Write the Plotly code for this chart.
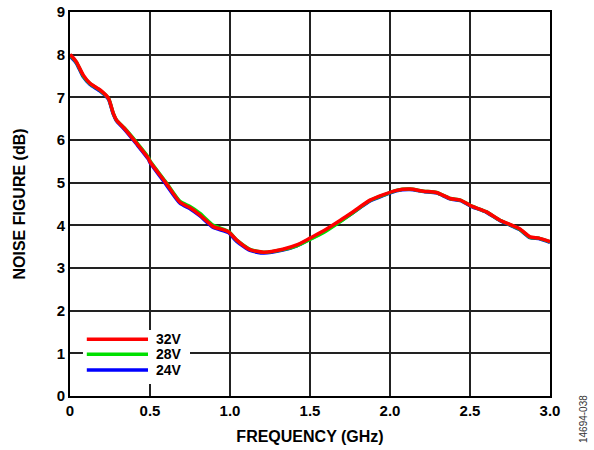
import plotly.graph_objects as go

freq = [0.0, 0.01, 0.04, 0.083, 0.125, 0.19, 0.24, 0.27, 0.29, 0.34, 0.417, 0.49, 0.5, 0.6, 0.6875,
        0.75, 0.8125, 0.896, 0.99, 1.04, 1.125, 1.21, 1.33, 1.417, 1.5, 1.58, 1.69, 1.77, 1.875,
        1.96, 2.04, 2.125, 2.21, 2.29, 2.375, 2.44, 2.51, 2.6, 2.6875, 2.81, 2.875, 2.93, 3.0]
nf_32v = [8.0, 7.97, 7.83, 7.52, 7.33, 7.17, 6.98, 6.63, 6.47, 6.27, 5.92, 5.57, 5.49, 4.99, 4.54,
          4.41, 4.24, 3.97, 3.85, 3.66, 3.43, 3.37, 3.44, 3.54, 3.70, 3.86, 4.12, 4.32, 4.59,
          4.72, 4.82, 4.85, 4.80, 4.77, 4.63, 4.59, 4.45, 4.32, 4.12, 3.92, 3.73, 3.70, 3.62]
nf_28v = [7.98, 7.95, 7.82, 7.50, 7.32, 7.16, 6.98, 6.63, 6.47, 6.28, 5.94, 5.59, 5.51, 5.01, 4.56,
          4.44, 4.28, 4.00, 3.86, 3.66, 3.44, 3.37, 3.43, 3.52, 3.67, 3.82, 4.09, 4.30, 4.58,
          4.71, 4.82, 4.85, 4.80, 4.77, 4.63, 4.59, 4.45, 4.32, 4.12, 3.91, 3.72, 3.70, 3.61]
nf_24v = [7.96, 7.93, 7.80, 7.48, 7.30, 7.14, 6.96, 6.61, 6.45, 6.25, 5.90, 5.55, 5.47, 4.96, 4.52,
          4.39, 4.22, 3.95, 3.83, 3.63, 3.41, 3.35, 3.42, 3.52, 3.68, 3.84, 4.10, 4.30, 4.57,
          4.70, 4.81, 4.84, 4.79, 4.76, 4.62, 4.58, 4.44, 4.31, 4.11, 3.90, 3.71, 3.69, 3.60]

series = [("32V", nf_32v, "#ff0000"), ("28V", nf_28v, "#00e000"), ("24V", nf_24v, "#0000ff")]
x_ticks = [0, 0.5, 1.0, 1.5, 2.0, 2.5, 3.0]
x_tick_text = ["0", "0.5", "1.0", "1.5", "2.0", "2.5", "3.0"]
y_ticks = list(range(0, 10))

FONT = "Liberation Sans, Arial, sans-serif"

fig = go.Figure()
# draw in reverse so red is on top
for name, vals, col in reversed(series):
    fig.add_trace(go.Scatter(x=freq, y=vals, mode="lines", name=name, showlegend=False,
                             line=dict(color=col, width=3.5, shape="spline", smoothing=0.6)))

fig.update_layout(
    width=594, height=450,
    margin=dict(l=70, r=44, t=12, b=54, autoexpand=False),
    paper_bgcolor="white", plot_bgcolor="white",
    font=dict(family=FONT, size=15, color="black"),
    showlegend=False,
    xaxis=dict(range=[0, 3.0], tickvals=x_ticks, ticktext=x_tick_text, showgrid=True,
               gridcolor="#222222", gridwidth=1.5, zeroline=False, showline=True, mirror=True,
               linecolor="black", linewidth=2, ticks="", tickfont=dict(size=15, weight="bold"),
               title=dict(text="<b>FREQUENCY (GHz)</b>", font=dict(size=16), standoff=13)),
    yaxis=dict(range=[0, 9], tickvals=y_ticks, showgrid=True, gridcolor="#222222", gridwidth=1.5,
               zeroline=False, showline=True, mirror=True, linecolor="black", linewidth=2,
               ticks="", tickfont=dict(size=15, weight="bold"),
               title=dict(text="<b>NOISE FIGURE (dB)</b>", font=dict(size=16), standoff=27)),
)

# manual legend (paper coordinates) with white background box
fig.add_shape(type="rect", xref="paper", yref="paper", x0=0.027, x1=0.25, y0=0.031, y1=0.172,
              fillcolor="white", line=dict(width=0), layer="above")
legend_y = [0.148, 0.109, 0.068]
for (name, vals, col), ly in zip(series, legend_y):
    fig.add_shape(type="line", xref="paper", yref="paper", x0=0.035, x1=0.1625, y0=ly, y1=ly,
                  line=dict(color=col, width=3.5), layer="above")
    fig.add_annotation(text="<b>" + name + "</b>", xref="paper", yref="paper", x=0.175, y=ly,
                       xanchor="left", yanchor="middle", showarrow=False,
                       font=dict(size=14, color="black", family=FONT))

fig.add_annotation(text="14694-038", xref="paper", yref="paper", x=1.0, y=-0.06,
                   xanchor="center", yanchor="middle", xshift=33, textangle=-90, showarrow=False,
                   font=dict(size=10, color="#333333", family=FONT))

fig.write_html("out.html", config={"displayModeBar": False},
               post_script="document.body.style.margin='0';")
